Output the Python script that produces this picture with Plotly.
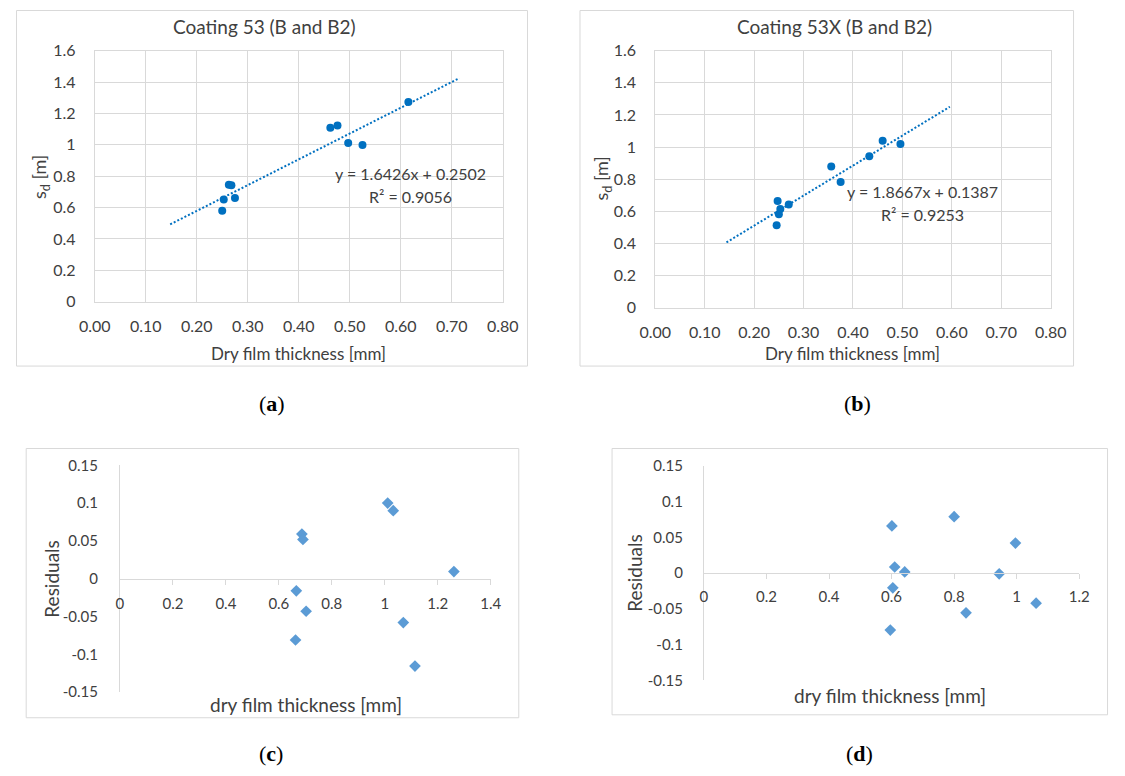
import plotly.graph_objects as go

# ---------------- data ----------------
a_x = [0.250, 0.253, 0.263, 0.268, 0.275, 0.462, 0.476, 0.497, 0.525, 0.615]
a_y = [0.580, 0.651, 0.745, 0.742, 0.661, 1.109, 1.123, 1.011, 0.999, 1.273]
a_trend_x = [0.148, 0.715]
a_trend_y = [0.493, 1.425]
a_eq = ["y = 1.6426x + 0.2502", "R² = 0.9056"]

b_x = [0.2455, 0.2475, 0.250, 0.253, 0.270, 0.356, 0.375, 0.433, 0.460, 0.496]
b_y = [0.514, 0.665, 0.583, 0.615, 0.643, 0.880, 0.783, 0.943, 1.040, 1.019]
b_trend_x = [0.144, 0.596]
b_trend_y = [0.407, 1.251]
b_eq = ["y = 1.8667x + 0.1387", "R² = 0.9253"]

c_x = [0.687, 0.691, 0.666, 0.703, 0.663, 1.011, 1.032, 1.261, 1.070, 1.114]
c_y = [0.059, 0.052, -0.016, -0.043, -0.081, 0.100, 0.090, 0.0095, -0.058, -0.1155]

d_x = [0.601, 0.610, 0.642, 0.604, 0.596, 0.800, 0.838, 0.944, 0.996, 1.062]
d_y = [0.066, 0.0086, 0.0018, -0.0205, -0.0795, 0.079, -0.0555, -0.0009, 0.042, -0.042]

top_yticks = [0, 0.2, 0.4, 0.6, 0.8, 1.0, 1.2, 1.4, 1.6]
top_yticktext = ["0", "0.2", "0.4", "0.6", "0.8", "1", "1.2", "1.4", "1.6"]
top_xticks = [0, 0.1, 0.2, 0.3, 0.4, 0.5, 0.6, 0.7, 0.8]
top_xticktext = ["0.00", "0.10", "0.20", "0.30", "0.40", "0.50", "0.60", "0.70", "0.80"]

res_yticks = [-0.15, -0.1, -0.05, 0, 0.05, 0.1, 0.15]
res_yticktext = ["-0.15", "-0.1", "-0.05", "0", "0.05", "0.1", "0.15"]
c_xticks = [0, 0.2, 0.4, 0.6, 0.8, 1.0, 1.2, 1.4]
c_xticktext = ["0", "0.2", "0.4", "0.6", "0.8", "1", "1.2", "1.4"]
d_xticks = [0, 0.2, 0.4, 0.6, 0.8, 1.0, 1.2]
d_xticktext = ["0", "0.2", "0.4", "0.6", "0.8", "1", "1.2"]

# ---------------- layout helpers ----------------
W, H = 1125, 776
FONT = "Lato"
TXT = "#404040"
GRID = "#D9D9D9"
BLUE = "#0070C0"
LBLUE = "#5B9BD5"


def px(x):
    return x / W


def py(y):
    return 1 - y / H


def xdom(l, r):
    return [px(l), px(r)]


def ydom(t, b):
    return [py(b), py(t)]


fig = go.Figure()

TREND = dict(color=BLUE, width=2, dash="2px,2px")
fig.add_trace(go.Scatter(x=a_trend_x, y=a_trend_y, mode="lines", line=TREND,
                         xaxis="x", yaxis="y", showlegend=False))
fig.add_trace(go.Scatter(x=a_x, y=a_y, mode="markers",
                         marker=dict(color=BLUE, size=8, symbol="circle"),
                         xaxis="x", yaxis="y", showlegend=False))
fig.add_trace(go.Scatter(x=b_trend_x, y=b_trend_y, mode="lines", line=TREND,
                         xaxis="x2", yaxis="y2", showlegend=False))
fig.add_trace(go.Scatter(x=b_x, y=b_y, mode="markers",
                         marker=dict(color=BLUE, size=8, symbol="circle"),
                         xaxis="x2", yaxis="y2", showlegend=False))
fig.add_trace(go.Scatter(x=c_x, y=c_y, mode="markers",
                         marker=dict(color=LBLUE, size=9, symbol="diamond"),
                         xaxis="x3", yaxis="y3", showlegend=False))
fig.add_trace(go.Scatter(x=d_x, y=d_y, mode="markers",
                         marker=dict(color=LBLUE, size=9, symbol="diamond"),
                         xaxis="x4", yaxis="y4", showlegend=False))

tickfont = dict(family=FONT, size=16, color=TXT)
resfont = dict(family=FONT, size=15, color=TXT)

A_X, A_Y = xdom(81, 501), ydom(41.7, 299)
B_X, B_Y = xdom(658, 1065), ydom(41.7, 305.3)
C_X, C_Y = xdom(107, 488.6), ydom(466.7, 699.3)
D_X, D_Y = xdom(708, 1094.4), ydom(467.3, 687.3)

top_x = dict(range=[0, 0.8], tickvals=top_xticks, ticktext=top_xticktext,
             showgrid=True, gridcolor=GRID, gridwidth=1, zeroline=False,
             showline=True, linecolor=GRID, mirror=True, ticks="",
             tickfont=tickfont, ticklabelstandoff=10, fixedrange=True)
top_y = dict(range=[0, 1.6], tickvals=top_yticks, ticktext=top_yticktext,
             showgrid=True, gridcolor=GRID, gridwidth=1, zeroline=False,
             showline=True, linecolor=GRID, mirror=True, ticks="",
             tickfont=tickfont, ticklabelstandoff=15, fixedrange=True)

fig.update_layout(
    width=W, height=H, autosize=False,
    margin=dict(l=0, r=0, t=0, b=0, pad=0),
    paper_bgcolor="white", plot_bgcolor="white",
    showlegend=False,
    xaxis=dict(domain=A_X, anchor="y", **top_x),
    yaxis=dict(domain=A_Y, anchor="x", **top_y),
    xaxis2=dict(domain=B_X, anchor="y2", **top_x),
    yaxis2=dict(domain=B_Y, anchor="x2", **top_y),
    xaxis3=dict(domain=C_X, anchor="free", position=(C_Y[0] + C_Y[1]) / 2,
                range=[0, 1.4], tickvals=c_xticks, ticktext=c_xticktext,
                showgrid=False, zeroline=False, showline=True, linecolor=GRID,
                ticks="outside", ticklen=5, tickcolor=GRID,
                tickfont=resfont, ticklabelstandoff=6, fixedrange=True),
    yaxis3=dict(domain=C_Y, anchor="x3", range=[-0.15, 0.15],
                tickvals=res_yticks, ticktext=res_yticktext,
                showgrid=False, zeroline=False, showline=True, linecolor=GRID,
                ticks="", tickfont=resfont, ticklabelstandoff=18, fixedrange=True),
    xaxis4=dict(domain=D_X, anchor="free", position=(D_Y[0] + D_Y[1]) / 2,
                range=[0, 1.2], tickvals=d_xticks, ticktext=d_xticktext,
                showgrid=False, zeroline=False, showline=True, linecolor=GRID,
                ticks="outside", ticklen=5, tickcolor=GRID,
                tickfont=resfont, ticklabelstandoff=5, fixedrange=True),
    yaxis4=dict(domain=D_Y, anchor="x4", range=[-0.15, 0.15],
                tickvals=res_yticks, ticktext=res_yticktext,
                showgrid=False, zeroline=False, showline=True, linecolor=GRID,
                ticks="", tickfont=resfont, ticklabelstandoff=17, fixedrange=True),
)

for (l, t, r, b) in [(0.5, 0.5, 526.5, 365), (580.5, 0.5, 1088.5, 365),
                     (10.5, 449.5, 517.5, 725.5), (613.5, 449.5, 1123.5, 722.5)]:
    fig.add_shape(type="rect", xref="paper", yref="paper",
                  x0=px(l), x1=px(r), y0=py(b), y1=py(t),
                  line=dict(color=GRID, width=1), fillcolor="rgba(0,0,0,0)",
                  layer="below")


def ann(text, x, y, size, rot=0, family=FONT, color=TXT):
    fig.add_annotation(text=text, x=px(x), y=py(y), xref="paper", yref="paper",
                       showarrow=False, textangle=rot, align="center",
                       xanchor="center", yanchor="middle",
                       font=dict(family=family, size=size, color=color))


# panel (a)
ann("Coating 53 (B and B2)", 256, 17, 19)
ann("Dry film thickness [mm]", 291, 352, 17)
ann("s<sub>d</sub> [m]", 26, 171, 18, rot=-90)
ann(a_eq[0], 406, 167.5, 16)
ann(a_eq[1], 406, 191, 16)
# panel (b)
ann("Coating 53X (B and B2)", 842, 17, 19)
ann("Dry film thickness [mm]", 861, 352, 17)
ann("s<sub>d</sub> [m]", 604, 173, 18, rot=-90)
ann(b_eq[0], 933, 186, 16)
ann(b_eq[1], 933, 209.5, 16)
# panel (c)
ann("dry film thickness [mm]", 298, 712, 19)
ann("Residuals", 37, 583, 19, rot=-90)
# panel (d)
ann("dry film thickness [mm]", 900, 703, 19)
ann("Residuals", 637, 577, 19, rot=-90)

SERIF = "Liberation Serif"
ann("(<b>a</b>)", 263, 403.5, 22, family=SERIF, color="#000000")
ann("(<b>b</b>)", 866, 403.5, 22, family=SERIF, color="#000000")
ann("(<b>c</b>)", 262, 762, 22, family=SERIF, color="#000000")
ann("(<b>d</b>)", 868, 762, 22, family=SERIF, color="#000000")

fig.write_html("out.html", config={"displayModeBar": False},
               post_script="document.body.style.margin='0';"
                           "document.body.style.overflow='hidden';")
